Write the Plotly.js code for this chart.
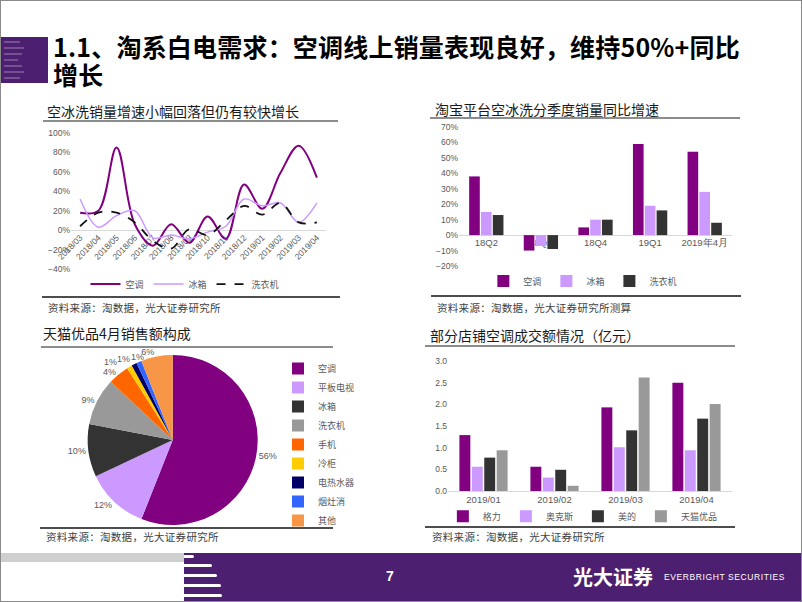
<!DOCTYPE html>
<html>
<head>
<meta charset="utf-8">
<script src="https://cdn.plot.ly/plotly-3.0.1.min.js"></script>
<style>
  html, body { margin: 0; padding: 0; background: #fff; }
  #slide { position: relative; width: 802px; height: 602px; overflow: hidden; background: #fff;
           font-family: "Noto Sans CJK SC", "Noto Sans", sans-serif; }
  .abs { position: absolute; }
  .frame { left: 0; top: 0; width: 802px; height: 602px; box-sizing: border-box; border: 1px solid #8a8a8a; z-index: 20; pointer-events: none; }
  .headline { left: 53px; font-size: 25px; line-height: 26px; letter-spacing: 0.2px; font-weight: bold; color: #000; white-space: nowrap; }
  .sec { font-size: 14px; line-height: 18px; color: #1a1a1a; white-space: nowrap; }
  .src { font-size: 10.5px; line-height: 14px; color: #404040; white-space: nowrap; letter-spacing: 0.3px; }
  .rule { height: 2px; background: #8c8c8c; }
  .rule.dark { background: #4d4d4d; height: 1.5px; }
  .chart { position: absolute; }
  .stripe { position: absolute; height: 3px; background: #fff; border-radius: 0 2px 2px 0; }
  .logoline { position: absolute; left: 4px; height: 2px; background: rgba(255,255,255,0.22); }
</style>
</head>
<body>
<div id="slide">
  <!-- header -->
  <div class="abs" style="left:0;top:37px;width:48px;height:46px;background:#4d1f70;"></div>
  <div class="logoline" style="top:41px;width:16px;"></div>
  <div class="logoline" style="top:47px;width:20px;"></div>
  <div class="logoline" style="top:53px;width:18px;"></div>
  <div class="logoline" style="top:59px;width:14px;"></div>
  <div class="logoline" style="top:65px;width:18px;"></div>
  <div class="logoline" style="top:71px;width:20px;"></div>
  <div class="logoline" style="top:77px;width:16px;"></div>
  <div class="abs headline" style="top:33px;">1.1、淘系白电需求：空调线上销量表现良好，维持50%+同比</div>
  <div class="abs headline" style="top:61px;">增长</div>

  <!-- section titles -->
  <div class="abs sec" style="left:47px;top:102px;">空冰洗销量增速小幅回落但仍有较快增长</div>
  <div class="abs rule" style="left:43px;top:120px;width:295px;"></div>
  <div class="abs sec" style="left:435px;top:100px;">淘宝平台空冰洗分季度销量同比增速</div>
  <div class="abs rule" style="left:430px;top:117px;width:310px;"></div>
  <div class="abs sec" style="left:43px;top:324px;">天猫优品4月销售额构成</div>
  <div class="abs rule" style="left:41px;top:346px;width:292px;"></div>
  <div class="abs sec" style="left:430px;top:326px;">部分店铺空调成交额情况（亿元）</div>
  <div class="abs rule" style="left:425px;top:345px;width:310px;"></div>

  <!-- sources -->
  <div class="abs rule dark" style="left:42px;top:296px;width:298px;"></div>
  <div class="abs src" style="left:48px;top:301px;">资料来源：淘数据，光大证券研究所</div>
  <div class="abs rule dark" style="left:431px;top:295px;width:310px;"></div>
  <div class="abs src" style="left:437px;top:301px;">资料来源：淘数据，光大证券研究所测算</div>
  <div class="abs rule dark" style="left:40px;top:527px;width:293px;"></div>
  <div class="abs src" style="left:46px;top:530px;">资料来源：淘数据，光大证券研究所</div>
  <div class="abs rule dark" style="left:425px;top:526px;width:310px;"></div>
  <div class="abs src" style="left:432px;top:530px;">资料来源：淘数据，光大证券研究所</div>

  <!-- charts -->
  <div id="lineChart" class="chart" style="left:30px;top:122px;width:310px;height:175px;"></div>
  <div id="quarterChart" class="chart" style="left:420px;top:120px;width:340px;height:175px;"></div>
  <div id="pieChart" class="chart" style="left:40px;top:340px;width:350px;height:200px;"></div>
  <div id="storeChart" class="chart" style="left:420px;top:348px;width:340px;height:178px;"></div>

  <!-- footer -->
  <div class="abs" style="left:0;top:553px;width:186px;height:9px;background:#cfcfcf;"></div>
  <div class="abs" style="left:184px;top:553px;width:618px;height:49px;background:#4d1f70;"></div>
  <div class="stripe" style="left:184px;top:555px;width:10px;"></div>
  <div class="stripe" style="left:184px;top:564px;width:28px;"></div>
  <div class="stripe" style="left:184px;top:574px;width:33px;"></div>
  <div class="stripe" style="left:184px;top:584px;width:37px;"></div>
  <div class="stripe" style="left:184px;top:594px;width:38px;"></div>
  <div class="abs" style="left:386px;top:568px;font-size:14px;font-weight:bold;color:#fff;font-family:'Liberation Sans',sans-serif;">7</div>
  <div class="abs" style="left:573px;top:564px;font-size:20px;line-height:26px;color:#fff;font-weight:bold;white-space:nowrap;">光大证券</div>
  <div class="abs" style="left:664px;top:571px;font-size:8.5px;line-height:12px;color:#fff;letter-spacing:0.6px;white-space:nowrap;font-family:'Liberation Sans',sans-serif;">EVERBRIGHT SECURITIES</div>

  <div class="abs frame"></div>
</div>

<script>
// chart 1: monthly growth of AC / fridge / washer
var months = ["2018/03", "2018/04", "2018/05", "2018/06", "2018/07", "2018/08", "2018/09",
              "2018/10", "2018/11", "2018/12", "2019/01", "2019/02", "2019/03", "2019/04"];
var acGrowth = [18, 20, 85, 6, -16, 6, -13, 14, -9, 47, 22, 59, 87, 54];
var fridgeGrowth = [32, 3, 15, 20, -8, -5, -9, -2, 4, 32, 25, 28, 8, 28];
var washerGrowth = [4, 18, 18, 8, -11, -19, 1, -5, 10, 25, 16, 28, 8, 8];

// chart 2: quarterly growth
var quarters = ["18Q2", "18Q3", "18Q4", "19Q1", "2019年4月"];
var acQuarter = [38, -10, 5, 59, 54];
var fridgeQuarter = [15, -7, 10, 19, 28];
var washerQuarter = [13, -9, 10, 16, 8];

// chart 3: Tmall Youpin April sales mix
var pieLabels = ["空调", "平板电视", "冰箱", "洗衣机", "手机", "冷柜", "电热水器", "烟灶消", "其他"];
var pieShares = [56, 12, 10, 9, 4, 1, 1, 1, 6];

// chart 4: store AC turnover (100m yuan)
var storeMonths = ["2019/01", "2019/02", "2019/03", "2019/04"];
var greeSales = [1.29, 0.56, 1.93, 2.50];
var auxSales = [0.56, 0.31, 1.01, 0.94];
var mideaSales = [0.77, 0.49, 1.40, 1.67];
var tmallSales = [0.94, 0.12, 2.62, 2.01];

var PURPLE = "#800080", LILAC = "#cc99ff", DARK = "#333333", GREY = "#999999";
var numFont = { family: "Liberation Sans, Arial, sans-serif", size: 8.5, color: "#595959" };
var cjkFont = { family: "Noto Sans CJK SC, sans-serif", size: 9, color: "#595959" };
var cfg = { displayModeBar: false, staticPlot: true };

function baseLayout(m) {
  return {
    width: m.w, height: m.h, margin: { l: m.l, r: m.r, t: m.t, b: m.b, pad: 0, autoexpand: false },
    paper_bgcolor: "rgba(0,0,0,0)", plot_bgcolor: "rgba(0,0,0,0)",
    font: numFont, showlegend: true,
  };
}

// line chart
var lineTraces = [
  { x: months, y: acGrowth, name: "空调", mode: "lines", line: { color: PURPLE, width: 2, shape: "spline", smoothing: 1 } },
  { x: months, y: fridgeGrowth, name: "冰箱", mode: "lines", line: { color: LILAC, width: 1.5, shape: "spline", smoothing: 1 } },
  { x: months, y: washerGrowth, name: "洗衣机", mode: "lines", line: { color: "#111111", width: 1.8, dash: "dash", shape: "spline", smoothing: 1 } },
];
var l1 = baseLayout({ w: 310, h: 175, l: 41, r: 14, t: 10.7, b: 28 });
l1.xaxis = { type: "category", range: [-0.5, 13.5], anchor: "free", position: 40 / 140, tickangle: -45,
             showgrid: false, showline: false, ticks: "", tickfont: numFont, layer: "below traces" };
l1.yaxis = { range: [-40, 100], dtick: 20, ticksuffix: "%", showgrid: false, zeroline: true,
             zerolinecolor: "#d9d9d9", zerolinewidth: 1, showline: false, tickfont: numFont };
l1.legend = { orientation: "h", xref: "container", yref: "container", x: 0.5, y: 0.074,
              xanchor: "center", yanchor: "middle", font: cjkFont, itemwidth: 30 };
Plotly.newPlot("lineChart", lineTraces, l1, cfg);

// quarterly bars
var quarterTraces = [
  { type: "bar", x: quarters, y: acQuarter, name: "空调", marker: { color: PURPLE } },
  { type: "bar", x: quarters, y: fridgeQuarter, name: "冰箱", marker: { color: LILAC } },
  { type: "bar", x: quarters, y: washerQuarter, name: "洗衣机", marker: { color: DARK } },
];
var l2 = baseLayout({ w: 340, h: 175, l: 39, r: 28, t: 7.3, b: 29.3 });
l2.barmode = "group"; l2.bargap = 0.35; l2.bargroupgap = 0.1;
l2.xaxis = { type: "category", anchor: "free", position: 20 / 90, showgrid: false, showline: false,
             ticks: "", tickfont: { family: numFont.family, size: 9.5, color: "#595959" }, layer: "below traces" };
l2.yaxis = { range: [-20, 70], dtick: 10, ticksuffix: "%", showgrid: false, zeroline: true,
             zerolinecolor: "#d9d9d9", zerolinewidth: 1, tickfont: numFont };
l2.legend = { orientation: "h", xref: "container", yref: "container", x: 0.479, y: 0.08,
              xanchor: "center", yanchor: "middle", font: cjkFont };
Plotly.newPlot("quarterChart", quarterTraces, l2, cfg);

// pie: tiny slices get their labels as annotations (a small row left of the 6% label)
var pieW = 350, pieH = 200;
var pieDomX = [0.1363, 0.622], pieDomY = [0.075, 0.925];
var pieTotal = pieShares.reduce(function (a, b) { return a + b; }, 0);
var pieCx = (pieDomX[0] + pieDomX[1]) / 2 * pieW;
var pieCy = (pieDomY[0] + pieDomY[1]) / 2 * pieH;
var pieR = Math.min((pieDomX[1] - pieDomX[0]) * pieW, (pieDomY[1] - pieDomY[0]) * pieH) / 2;
var smallCount = pieShares.filter(function (s) { return s / pieTotal <= 0.015; }).length;
var pieAnn = [], cum = 0;
var pieTextPos = pieShares.map(function (s) {
  var mid = (cum + s / 2) / pieTotal * 2 * Math.PI;
  cum += s;
  if (s / pieTotal > 0.015) return "outside";
  var j = pieAnn.length;
  pieAnn.push({
    xref: "paper", yref: "paper", showarrow: false,
    x: (pieCx + 1.16 * pieR * Math.sin(mid)) / pieW, y: (pieCy + 1.16 * pieR * Math.cos(mid)) / pieH,
    xshift: (j - (smallCount - 1)) * 8 - 5,
    text: Math.round(s / pieTotal * 100) + "%", font: { family: numFont.family, size: 9, color: "#595959" },
  });
  return "none";
});
var pieTrace = {
  type: "pie", labels: pieLabels, values: pieShares, sort: false, direction: "clockwise", rotation: 0,
  marker: { colors: [PURPLE, LILAC, DARK, GREY, "#ff6600", "#ffcc00", "#000066", "#3366ff", "#f79646"] },
  textinfo: "percent", texttemplate: "%{percent:.0%}", textposition: pieTextPos,
  outsidetextfont: { family: numFont.family, size: 9, color: "#595959" },
  domain: { x: pieDomX, y: pieDomY },
};
var l3 = baseLayout({ w: pieW, h: pieH, l: 0, r: 0, t: 0, b: 0 });
l3.annotations = pieAnn;
l3.legend = { orientation: "v", xref: "container", yref: "container", x: 0.68, y: 0.93,
              xanchor: "left", yanchor: "top", font: cjkFont, itemwidth: 30, maxheight: 250 };
Plotly.newPlot("pieChart", [pieTrace], l3, cfg);

// store bars
var storeTraces = [
  { type: "bar", x: storeMonths, y: greeSales, name: "格力", marker: { color: PURPLE } },
  { type: "bar", x: storeMonths, y: auxSales, name: "奥克斯", marker: { color: LILAC } },
  { type: "bar", x: storeMonths, y: mideaSales, name: "美的", marker: { color: DARK } },
  { type: "bar", x: storeMonths, y: tmallSales, name: "天猫优品", marker: { color: GREY } },
];
var l4 = baseLayout({ w: 340, h: 178, l: 28, r: 28, t: 12.7, b: 35 });
l4.barmode = "group"; l4.bargap = 0.3; l4.bargroupgap = 0.12;
l4.xaxis = { type: "category", showgrid: false, showline: true, linecolor: "#d9d9d9", ticks: "",
             tickfont: { family: numFont.family, size: 9.5, color: "#595959" } };
l4.yaxis = { range: [0, 3], dtick: 0.5, tickformat: ".1f", showgrid: false, zeroline: false, tickfont: numFont };
l4.legend = { orientation: "h", xref: "container", yref: "container", x: 0.479, y: 0.055,
              xanchor: "center", yanchor: "middle", font: cjkFont };
Plotly.newPlot("storeChart", storeTraces, l4, cfg);
</script>
</body>
</html>
